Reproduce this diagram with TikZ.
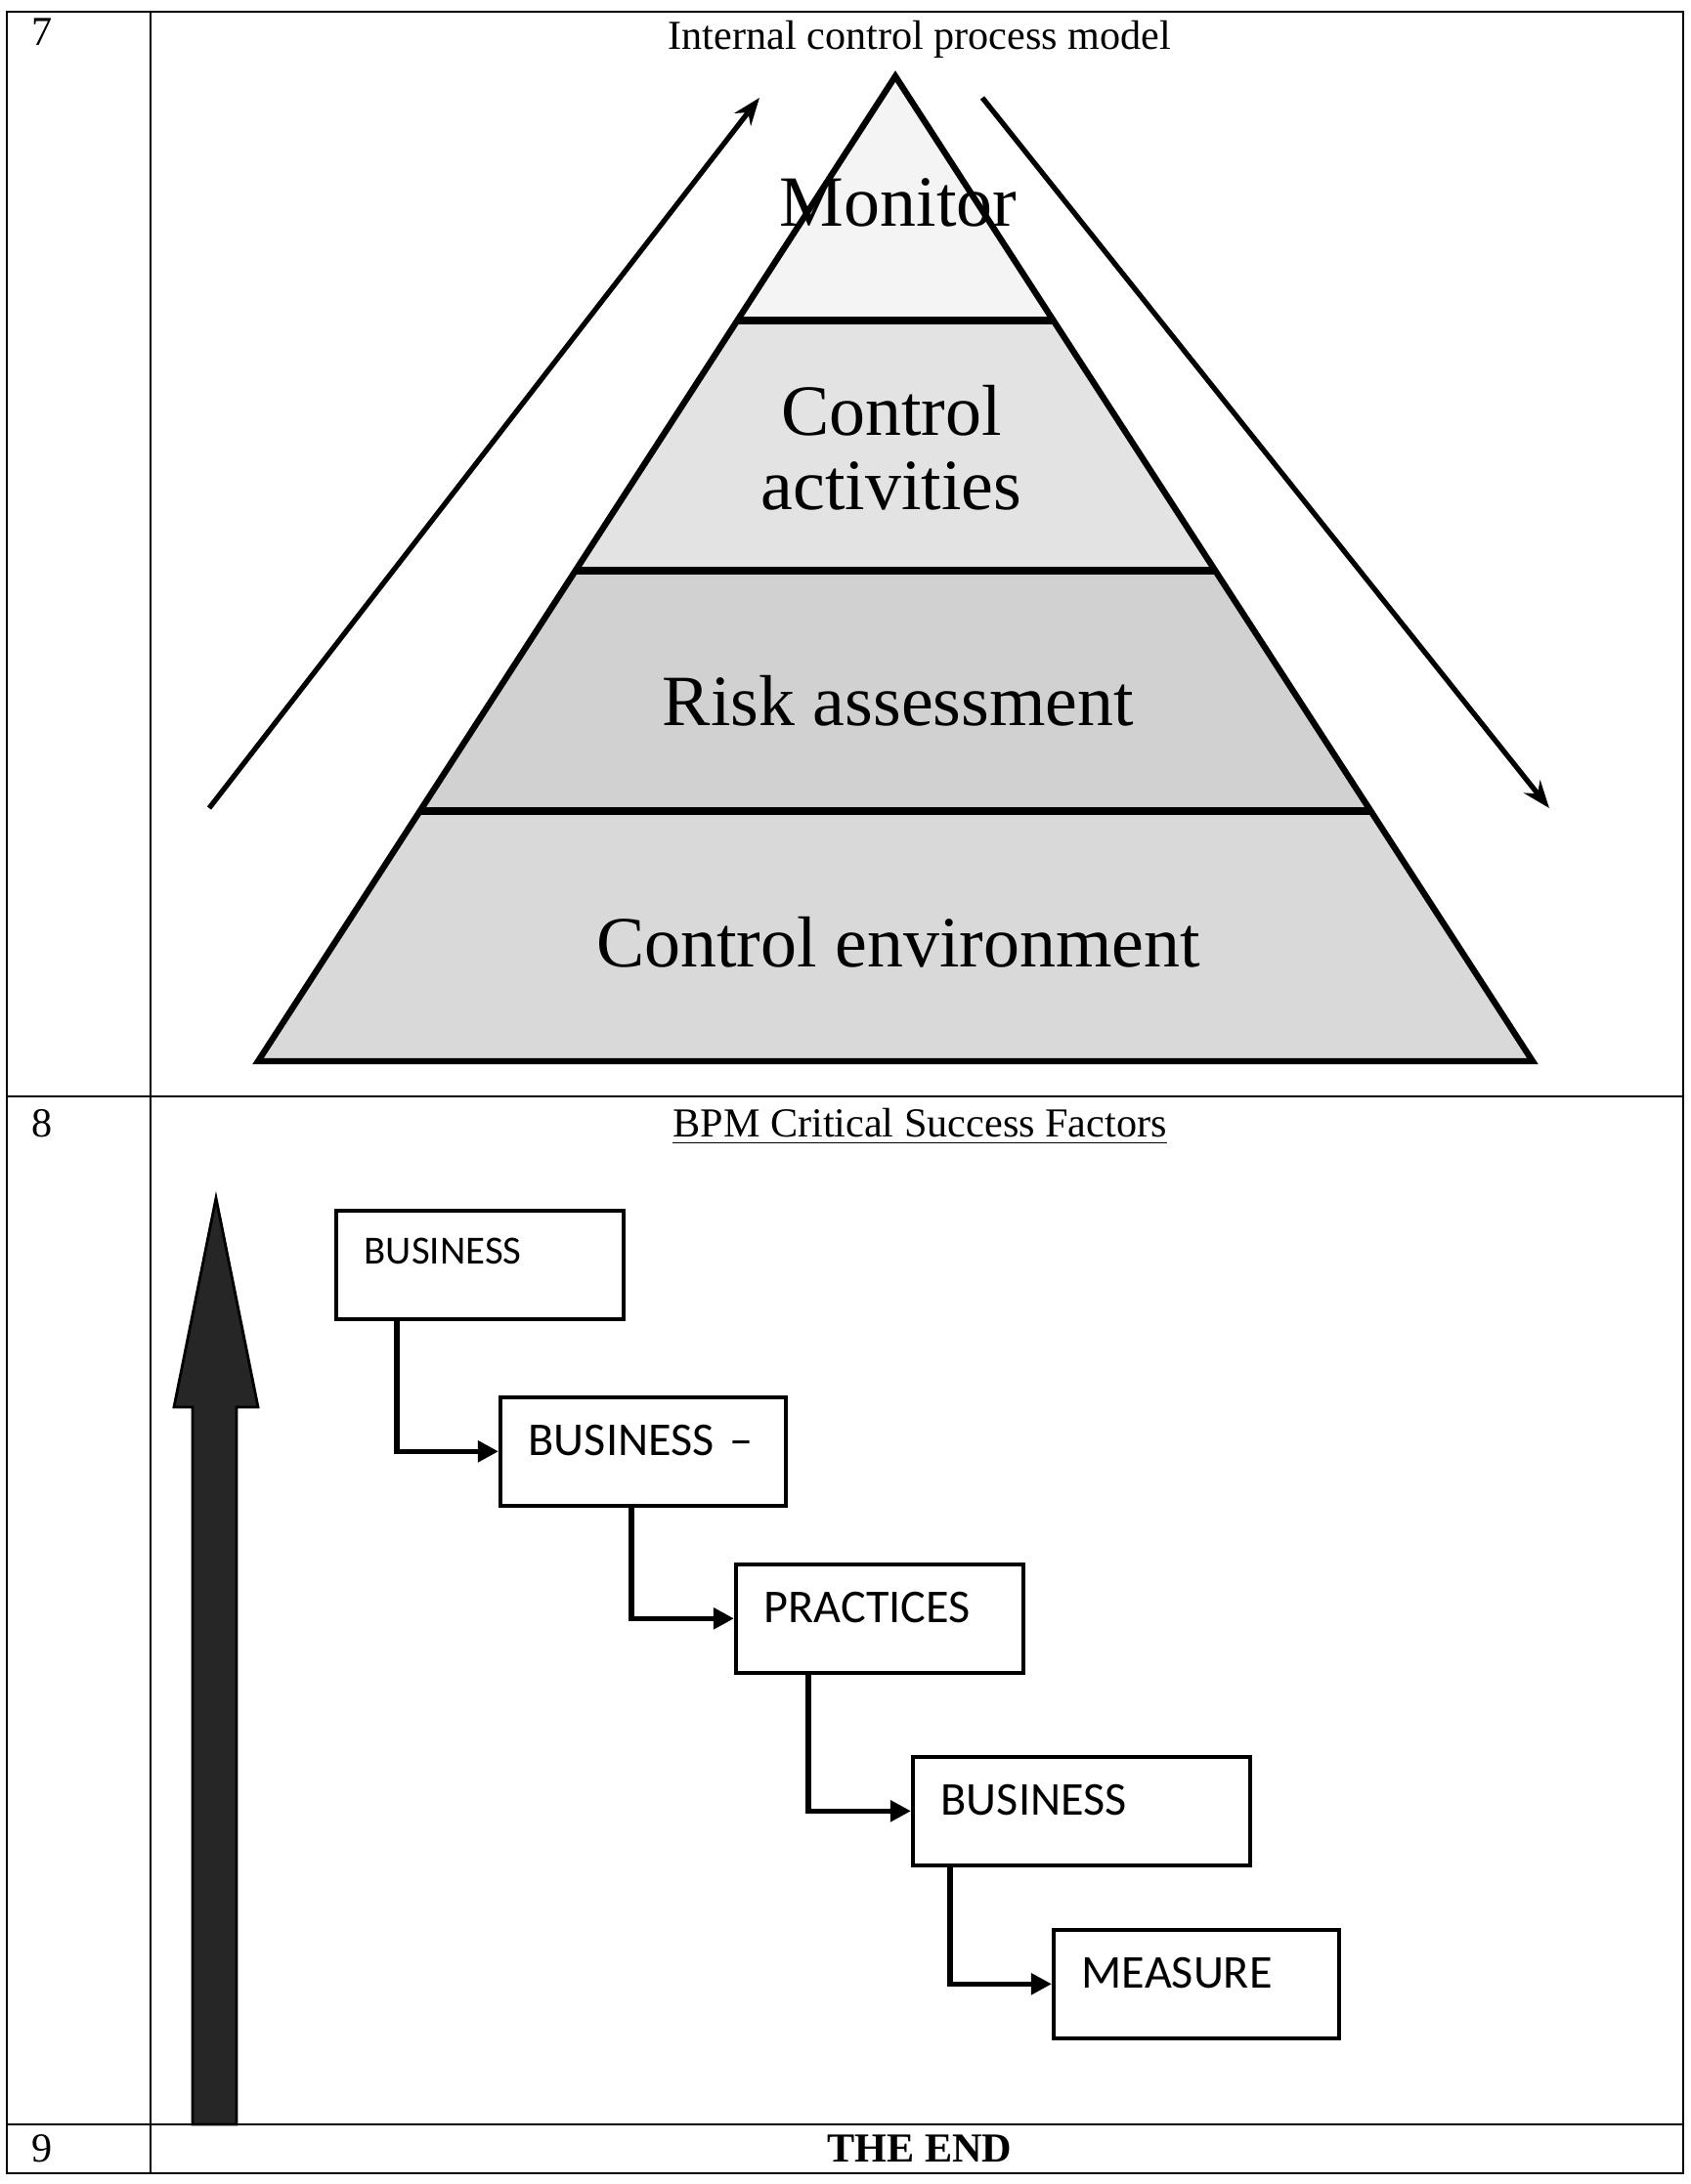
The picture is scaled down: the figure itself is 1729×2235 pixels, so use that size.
\documentclass[tikz,border=0pt]{standalone}
\usepackage{fontspec}
\setmainfont{Liberation Serif}
\newfontfamily\boxfont{Carlito}
\usetikzlibrary{shapes, arrows.meta, positioning, calc}

\tikzset{
  tableline/.style={line width=0.8pt},
  layerline/.style={line width=2.4pt},
  sidearrow/.style={line width=1.5pt, -{Stealth[length=8pt, width=6pt]}},
  layerlabel/.style={font=\fontsize{21}{21.6}\selectfont, align=center},
  csfbox/.style={draw, line width=1pt, rectangle, anchor=north west, align=left,
    inner xsep=0.29cm, inner ysep=0pt, text height=0.6cm, text depth=0.51cm,
    font=\boxfont\fontsize{13.7}{16}\selectfont},
  elbow/.style={line width=1.5pt, -{Triangle[length=6pt, width=6pt]}},
}

\begin{document}
\begin{tikzpicture}[x=0.01cm, y=-0.01cm]
  \useasboundingbox (0,0) rectangle (1729,2235);

  % table frame
  \draw[tableline] (7,12) rectangle (1722,2224);
  \draw[tableline] (154,12) -- (154,2224);
  \draw[tableline] (7,1122) -- (1722,1122);
  \draw[tableline] (7,2174) -- (1722,2174);

  \node (num7) at (43,33) {\fontsize{12}{14}\selectfont 7};
  \node (num8) at (43,1150) {\fontsize{12}{14}\selectfont 8};
  \node (num9) at (43,2199) {\fontsize{12}{14}\selectfont 9};

  \node (title7) at (941,40) {\fontsize{12}{14}\selectfont Internal control process model};
  \node (title8) at (941,1153) {\fontsize{12}{14}\selectfont \underline{BPM Critical Success Factors}};
  \node (theend) at (941,2199) {\fontsize{12}{14}\selectfont\bfseries THE END};

  % pyramid
  \coordinate (apex) at (916,78);
  \coordinate (bl) at (264,1086);
  \coordinate (br) at (1568,1086);
  \coordinate (l1) at ($(apex)!0.248!(bl)$);
  \coordinate (r1) at ($(apex)!0.248!(br)$);
  \coordinate (l2) at ($(apex)!0.502!(bl)$);
  \coordinate (r2) at ($(apex)!0.502!(br)$);
  \coordinate (l3) at ($(apex)!0.746!(bl)$);
  \coordinate (r3) at ($(apex)!0.746!(br)$);

  \fill[gray!9] (apex) -- (l1) -- (r1) -- cycle;
  \fill[gray!22] (l1) -- (l2) -- (r2) -- (r1) -- cycle;
  \fill[gray!36] (l2) -- (l3) -- (r3) -- (r2) -- cycle;
  \fill[gray!30] (l3) -- (bl) -- (br) -- (r3) -- cycle;

  \draw[line width=1.8pt, line join=miter] (apex) -- (bl) -- (br) -- cycle;
  \draw[layerline] (l1) -- (r1);
  \draw[layerline] (l2) -- (r2);
  \draw[layerline] (l3) -- (r3);

  \node[layerlabel] (monitor) at (919,207) {Monitor};
  \node[layerlabel] (activities) at (912,458) {Control\\activities};
  \node[layerlabel] (risk) at (919,717) {Risk assessment};
  \node[layerlabel] (environment) at (919,964) {Control environment};

  \coordinate (upfrom) at (214,827);
  \coordinate (upto) at (777,100);
  \coordinate (downfrom) at (1005,100);
  \coordinate (downto) at (1585,827);
  \draw[sidearrow] (upfrom) -- (upto);
  \draw[sidearrow] (downfrom) -- (downto);

  % big upward arrow
  \filldraw[fill=black!85, draw=black, line width=0.8pt]
    (197,2174) -- (197,1440) -- (178,1440) -- (221,1226) -- (264,1440)
    -- (242,1440) -- (242,2174) -- cycle;

  % success factor boxes
  \node[csfbox, text width=2.36cm, text height=0.55cm, text depth=0.56cm,
    font=\boxfont\fontsize{11.6}{14}\selectfont] (business) at (342,1237) {BUSINESS};
  \node[csfbox, text width=2.34cm] (businessdash) at (510,1428) {\mbox{BUSINESS –}};
  \node[csfbox, text width=2.36cm] (practices) at (751,1599) {PRACTICES};
  \node[csfbox, text width=2.87cm] (businesstwo) at (932,1796) {BUSINESS};
  \node[csfbox, text width=2.34cm] (measure) at (1076,1973) {MEASURE};

  \draw[elbow] ([xshift=0.64cm]business.south west) |- (businessdash.west);
  \draw[elbow] ([xshift=1.36cm]businessdash.south west) |- (practices.west);
  \draw[elbow] ([xshift=0.76cm]practices.south west) |- (businesstwo.west);
  \draw[elbow] ([xshift=0.40cm]businesstwo.south west) |- (measure.west);
\end{tikzpicture}
\end{document}
